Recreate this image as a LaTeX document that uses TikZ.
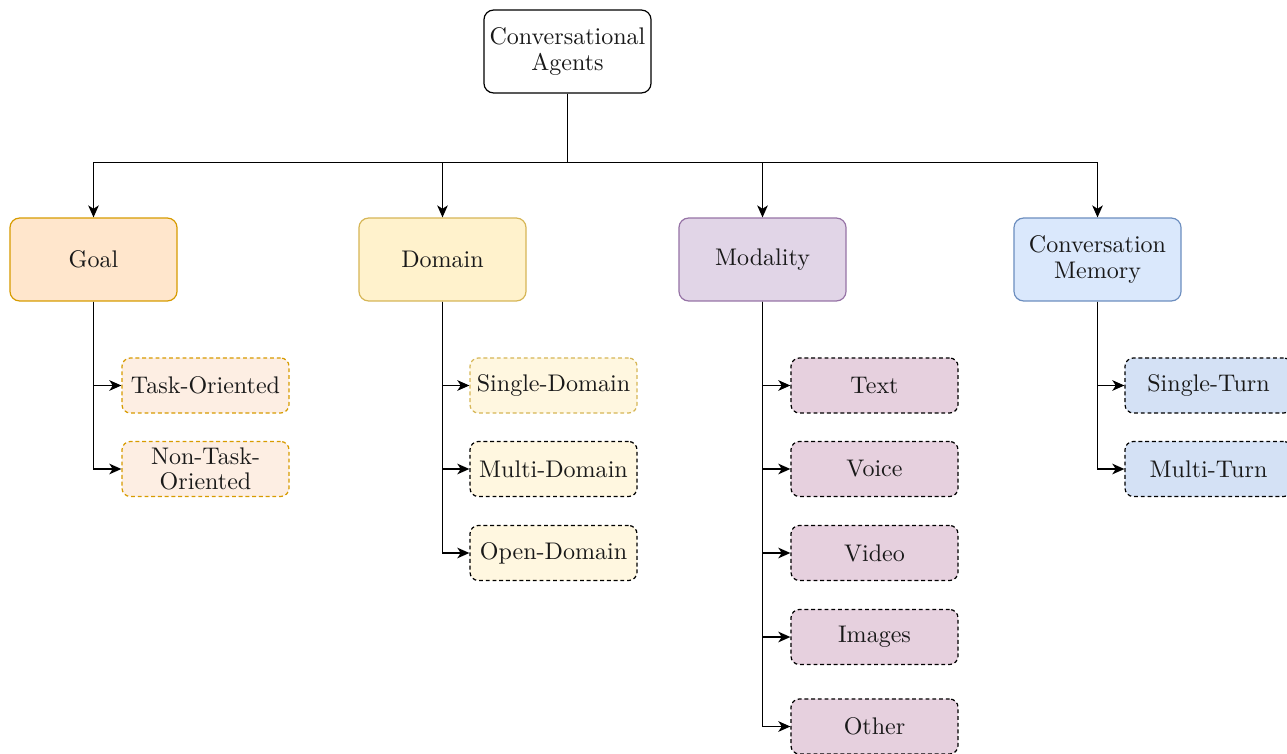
\documentclass[tikz,border=0pt]{standalone}
\usetikzlibrary{arrows.meta}
\definecolor{goalF}{HTML}{FFE6CC}\definecolor{goalD}{HTML}{D79B00}
\definecolor{domF}{HTML}{FFF2CC}\definecolor{domD}{HTML}{D6B656}
\definecolor{modF}{HTML}{E1D5E7}\definecolor{modD}{HTML}{9673A6}
\definecolor{memF}{HTML}{DAE8FC}\definecolor{memD}{HTML}{6C8EBF}
\definecolor{goalC}{HTML}{FDEEE3}
\definecolor{domC}{HTML}{FFF7E0}
\definecolor{modC}{HTML}{E6D0DE}
\definecolor{memC}{HTML}{D4E1F5}
\tikzset{
  base/.style={rectangle, rounded corners=4pt, inner sep=0pt, align=center,
    font=\fontsize{10}{10.5}\selectfont, text=black!90, line width=0.5pt},
  big/.style={base, minimum width=69.5pt, minimum height=34.5pt},
  small/.style={base, dashed, dash pattern=on 1.6pt off 1.2pt, minimum width=69.5pt, minimum height=22.9pt, rounded corners=3.5pt},
  arr/.style={-{Stealth[length=5pt,width=4.4pt,inset=1.4pt]}, line width=0.65pt},
}
\begin{document}
\begin{tikzpicture}[x=0.416pt,y=-0.416pt]
\useasboundingbox (0,0) rectangle (1287,754);
\clip (0,0) rectangle (1287,754);
\node[big, draw=black, fill=white] (root) at (567.5,51.5) {Conversational\\Agents};
\node[big, draw=goalD, fill=goalF] (goal) at (93.5,259.5) {Goal};
\node[big, draw=domD, fill=domF] (dom) at (442.5,259.5) {Domain};
\node[big, draw=modD, fill=modF] (mod) at (762.5,259.5) {Modality};
\node[big, draw=memD, fill=memF] (mem) at (1097.5,259.5) {Conversation\\Memory};

\node[small, draw=goalD, fill=goalC] (task) at (205.5,385.5) {Task-Oriented};
\node[small, draw=goalD, fill=goalC] (ntask) at (205.5,469) {Non-Task-\\Oriented};

\node[small, draw=domD, fill=domC] (sd) at (553.5,385.5) {Single-Domain};
\node[small, draw=black, fill=domC] (md) at (553.5,469) {Multi-Domain};
\node[small, draw=black, fill=domC] (od) at (553.5,553) {Open-Domain};

\node[small, draw=black, fill=modC] (text) at (874.5,385.5) {Text};
\node[small, draw=black, fill=modC] (voice) at (874.5,469) {Voice};
\node[small, draw=black, fill=modC] (video) at (874.5,553) {Video};
\node[small, draw=black, fill=modC] (img) at (874.5,637) {Images};
\node[small, draw=black, fill=modC] (other) at (874.5,726.5) {Other};

\node[small, draw=black, fill=memC] (st) at (1208.5,385.5) {Single-Turn};
\node[small, draw=black, fill=memC] (mt) at (1208.5,469) {Multi-Turn};

\draw[arr] (root.south) -- ++(0,69) -| (goal.north);
\draw[arr] (root.south) -- ++(0,69) -| (dom.north);
\draw[arr] (root.south) -- ++(0,69) -| (mod.north);
\draw[arr] (root.south) -- ++(0,69) -| (mem.north);

\draw[arr] (goal.south) |- (task.west);
\draw[arr] (goal.south) |- (ntask.west);
\draw[arr] (dom.south) |- (sd.west);
\draw[arr] (dom.south) |- (md.west);
\draw[arr] (dom.south) |- (od.west);
\draw[arr] (mod.south) |- (text.west);
\draw[arr] (mod.south) |- (voice.west);
\draw[arr] (mod.south) |- (video.west);
\draw[arr] (mod.south) |- (img.west);
\draw[arr] (mod.south) |- (other.west);
\draw[arr] (mem.south) |- (st.west);
\draw[arr] (mem.south) |- (mt.west);
\end{tikzpicture}
\end{document}
